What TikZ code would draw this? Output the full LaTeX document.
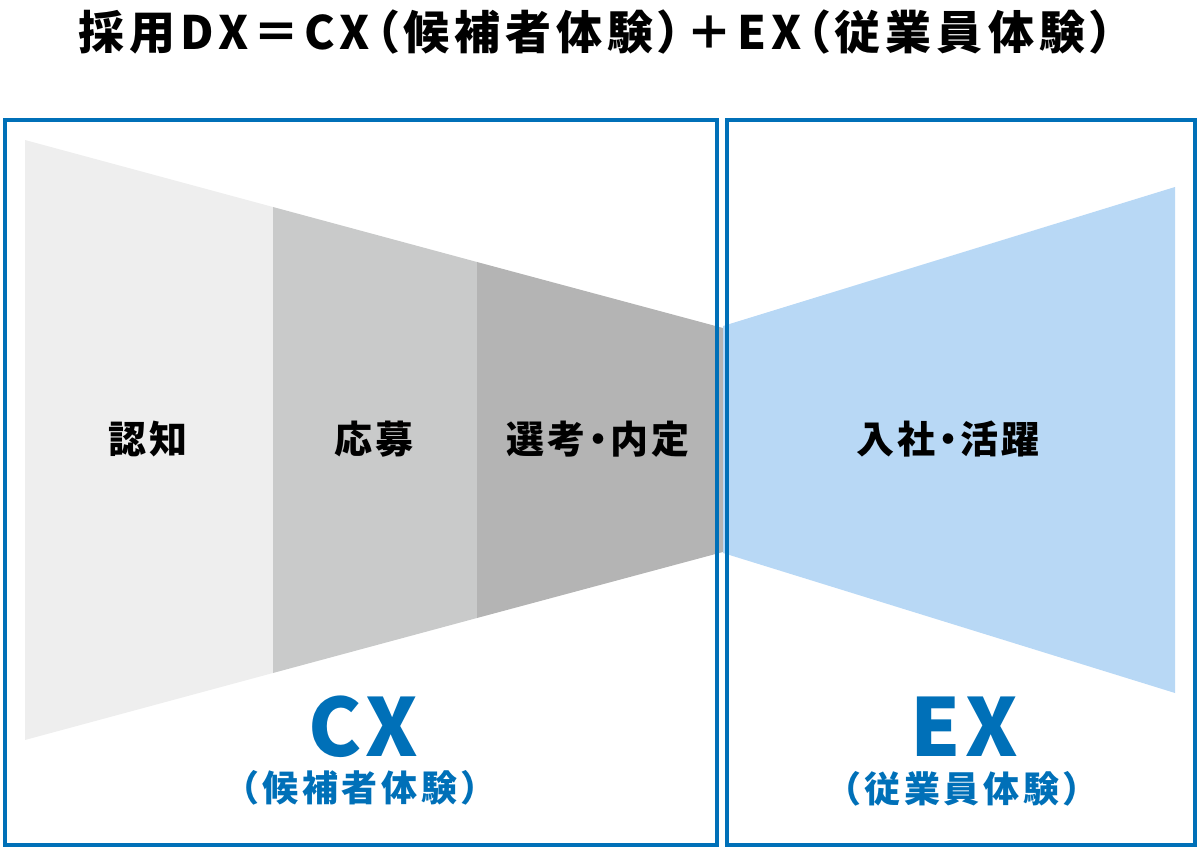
\documentclass[tikz,border=0pt]{standalone}
\usepackage{fontspec}
\newfontfamily\jptitle{Noto Sans CJK JP}[LetterSpace=11,RawFeature=+palt]
\newfontfamily\jpstage{Noto Sans CJK JP}[LetterSpace=8,RawFeature=+palt]
\newfontfamily\jpsp{Noto Sans CJK JP}[LetterSpace=10]
\newfontfamily\jpbig{Noto Sans CJK JP}[LetterSpace=6]
\definecolor{cxblue}{HTML}{0070B8}
\definecolor{exfill}{HTML}{B8D8F5}
\definecolor{gA}{HTML}{EEEEEE}
\definecolor{gB}{HTML}{C9CACA}
\definecolor{gC}{HTML}{B4B4B4}
\begin{document}
\begin{tikzpicture}[x=1pt,y=-1pt,
  frame/.style={draw=cxblue,line width=4pt},
  stage/.style={font=\jpstage\bfseries\fontsize{38}{42}\selectfont,text=black,inner sep=0pt},
  big/.style={font=\jpbig\bfseries\fontsize{80}{84}\selectfont,text=cxblue,inner sep=0pt},
  sub/.style={font=\jpsp\bfseries\fontsize{36}{42}\selectfont,text=cxblue,inner sep=0pt}]
\useasboundingbox (0,0) rectangle (1200,850);
% funnel segments
\fill[gA] (25,140) -- (273,207) -- (273,673) -- (25,740) -- cycle;
\fill[gB] (273,207) -- (477,262) -- (477,618) -- (273,673) -- cycle;
\fill[gC] (477,262) -- (723,328) -- (723,552) -- (477,618) -- cycle;
\fill[exfill] (723,326) -- (1175,187) -- (1175,693) -- (723,553) -- cycle;
% frames
\draw[frame] (5,120) rectangle (717,845);
\draw[frame] (727,120) rectangle (1195,845);
% title
\node[font=\jptitle\bfseries\fontsize{46}{50}\selectfont,inner sep=0pt] (title) at (596,32) {採用DX＝CX（候補者体験）＋EX（従業員体験）};
% stage labels
\node[stage] (s1) at (148,439) {認知};
\node[stage] (s2) at (374,439) {応募};
\node[stage] (s3) at (598,439) {選考・内定};
\node[stage] (s4) at (948,439) {入社・活躍};
% CX / EX
\node[big] (cx) at (363,727) {CX};
\node[sub] (cxs) at (360,788) {（候補者体験）};
\node[big] (ex) at (964,727) {EX};
\node[sub] (exs) at (962,789) {（従業員体験）};
\end{tikzpicture}
\end{document}
